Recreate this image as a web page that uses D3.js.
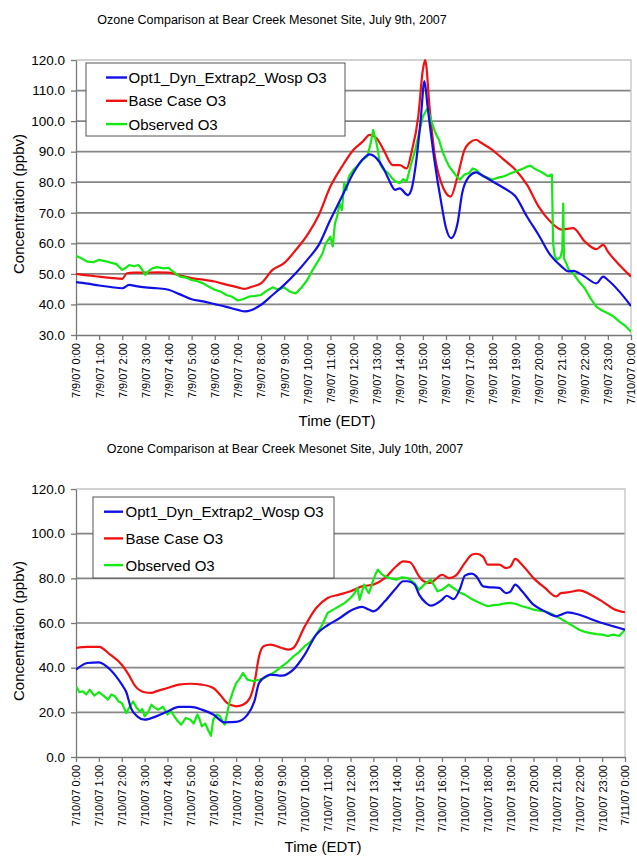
<!DOCTYPE html>
<html>
<head>
<meta charset="utf-8">
<script src="https://cdn.jsdelivr.net/npm/d3@7"></script>
<style>
  body { margin: 0; background: #fff; }
  text { font-family: Arial, "Liberation Sans", sans-serif; fill: #000; }
</style>
</head>
<body>
<script>
// Series names
var seriesNames = ["Opt1_Dyn_Extrap2_Wosp O3", "Base Case O3", "Observed O3"];
var seriesColors = ["#1010e6", "#f01212", "#12ea12"];

// July 9th - [hour, ppbv]
var day1Opt = [[0,47.3],[0.5,46.8],[1,46.2],[1.5,45.7],[2,45.3],[2.3,46.4],[2.6,46.0],[3,45.6],[3.5,45.3],[4,44.8],[4.5,43.3],[5,41.7],[5.5,41.0],[6,40.1],[6.5,39.2],[7,38.2],[7.3,37.7],[7.6,38.2],[8,39.9],[8.5,43.1],[9,46.4],[9.5,50.2],[10,54.6],[10.5,59.5],[11,67.7],[11.5,75.3],[12,83.1],[12.4,87.5],[12.7,89.1],[13,87.8],[13.3,84.5],[13.5,81.3],[13.8,77.5],[14,78],[14.35,75.8],[14.5,77.5],[14.7,86.2],[14.9,100],[15.07,113.1],[15.2,105],[15.5,87.2],[15.8,73],[16,65],[16.22,61.7],[16.5,66.6],[16.7,76.5],[17,81.9],[17.3,83.2],[17.5,82.5],[18,80.3],[18.5,78.1],[19,75.4],[19.5,68.8],[20,62.8],[20.5,56.3],[21,52.4],[21.3,50.8],[21.5,51],[22,49.1],[22.5,46.9],[22.8,49.1],[23,48],[23.5,44.2],[24,39.5]];
var day1Base = [[0,50],[0.5,49.5],[1,49.1],[1.5,48.7],[2,48.4],[2.2,50.2],[2.5,50.4],[3,50.4],[3.5,50.5],[4,50.4],[4.5,49.5],[5,48.6],[5.5,48.1],[6,47.5],[6.5,46.5],[7,45.6],[7.3,45.1],[7.6,45.8],[8,46.9],[8.5,51.3],[9,53.5],[9.5,57.8],[10,62.7],[10.5,69.3],[11,78.6],[11.5,85.1],[12,90.6],[12.4,93.3],[12.7,95.5],[13,94.4],[13.3,90.6],[13.7,85.6],[14,85.6],[14.3,84.5],[14.5,89.5],[14.8,101.5],[15,116.8],[15.1,120],[15.3,103.6],[15.5,89.5],[15.8,79.7],[16,76.4],[16.2,75.3],[16.5,81.9],[16.8,90.6],[17,92.8],[17.3,93.9],[17.5,93],[18,90.6],[18.5,87.4],[19,84.1],[19.5,79.2],[20,72.1],[20.5,67.2],[21,64.5],[21.5,65],[22,60.6],[22.5,58.1],[22.8,59.5],[23,57.3],[23.5,52.9],[24,49.1]];
var day1Obs = [[0,55.9],[0.25,55.0],[0.5,54.0],[0.75,53.8],[1,54.6],[1.25,54.2],[1.5,53.7],[1.75,53.2],[2,51.3],[2.15,52.0],[2.3,52.9],[2.5,52.5],[2.7,52.9],[2.85,51.5],[3,49.7],[3.15,51.0],[3.3,51.8],[3.5,52.2],[3.8,51.8],[4,52.0],[4.1,51.3],[4.3,50.2],[4.5,49.1],[4.75,48.8],[5,48.0],[5.25,47.6],[5.5,46.9],[5.75,45.8],[6,44.8],[6.25,44.2],[6.5,43.1],[6.75,42.5],[7,41.3],[7.25,41.8],[7.5,42.6],[7.75,42.8],[8,43.1],[8.25,44.5],[8.5,45.6],[8.75,44.8],[9,45.6],[9.25,44.2],[9.5,43.6],[9.75,45.5],[10,48],[10.25,51.5],[10.5,54.6],[10.65,56.5],[10.8,60],[11,62.2],[11.1,59],[11.2,66.6],[11.3,69],[11.4,73.1],[11.5,70.9],[11.6,79.7],[11.7,77.5],[11.8,81.9],[12,84.1],[12.2,85.5],[12.4,87.4],[12.6,88.5],[12.75,93],[12.85,97.1],[13,92.7],[13.15,86],[13.3,84.1],[13.5,83],[13.65,81.5],[13.8,80.3],[14,79.7],[14.15,81],[14.3,80.3],[14.5,86.2],[14.65,90],[14.8,95],[15,101.5],[15.2,104.2],[15.4,99.3],[15.55,96],[15.7,93.8],[15.85,90],[16,87.3],[16.15,85],[16.3,83.5],[16.45,82],[16.6,80.8],[16.8,82.5],[17,83],[17.15,84.5],[17.3,84.1],[17.45,83],[17.6,81.9],[17.8,81.5],[18,80.8],[18.25,81.5],[18.5,81.9],[18.75,82.8],[19,83.5],[19.25,84.2],[19.5,85.1],[19.65,85.4],[19.8,84.6],[20,83.8],[20.2,83.0],[20.4,82.0],[20.58,82.5],[20.63,60],[20.7,56],[20.8,54.6],[20.95,55.5],[21.03,58],[21.07,73],[21.1,55],[21.2,53.5],[21.3,51.5],[21.5,50.2],[21.75,47.5],[22,45.3],[22.25,42],[22.5,39.3],[22.75,38],[23,37.1],[23.25,36],[23.5,34.4],[23.75,33],[24,31.1]];

// July 10th - [hour, ppbv]
var day2Opt = [[0,39.1],[0.5,42.1],[1,42.4],[1.5,39.1],[2,32.5],[2.2,29],[2.4,22],[2.7,18],[3,16.7],[3.5,18.2],[4,20.4],[4.5,22.4],[5,22.4],[5.5,21.2],[6,19],[6.5,15.5],[7,15.7],[7.5,19],[7.8,25],[8,33.1],[8.3,36.1],[8.5,36.9],[9,36.4],[9.5,39.1],[10,45.8],[10.5,54.8],[11,59],[11.5,62],[12,65.5],[12.5,67.2],[12.8,66],[13,65.2],[13.5,69.7],[14,75.7],[14.3,78.7],[14.5,78.7],[14.8,77.2],[15,72.7],[15.3,69],[15.5,67.8],[16,70.4],[16.2,72.2],[16.5,70.7],[16.8,75.7],[17,81.2],[17.3,82.1],[17.5,80.9],[17.8,76.4],[18,76.1],[18.5,75.7],[18.8,73.4],[19,74.2],[19.2,77.2],[19.5,74.2],[20,68.2],[20.5,65.2],[21,63],[21.2,63.7],[21.5,64.8],[22,63.7],[22.5,61.8],[23,60],[23.5,58.5],[24,57]];
var day2Base = [[0,48.8],[0.5,49.3],[1,49.3],[1.5,45.8],[2,41.3],[2.3,36.9],[2.6,31.6],[3,29],[3.3,28.7],[3.5,29.4],[4,30.9],[4.5,32.4],[5,32.8],[5.5,32.4],[6,30.9],[6.3,27.9],[6.6,24.2],[7,22.7],[7.3,23.4],[7.6,26.4],[7.8,33.1],[8,45],[8.2,49.6],[8.5,50.3],[9,48.8],[9.3,48.1],[9.5,48.8],[10,58.5],[10.5,66.7],[11,71.2],[11.5,72.7],[12,74.2],[12.5,76.4],[13,77.2],[13.5,80.1],[14,85.4],[14.3,87.6],[14.6,87.2],[15,80.9],[15.2,78.7],[15.5,77.9],[15.7,79.4],[16,81.6],[16.3,80.1],[16.6,81.2],[17,86.9],[17.3,90.6],[17.5,91],[17.8,89.6],[18,86.1],[18.5,86.1],[18.8,84.6],[19,85.4],[19.2,88.7],[19.5,86.1],[20,80.1],[20.5,75.7],[21,71.9],[21.2,73.4],[21.5,73.7],[22,74.6],[22.5,72.7],[23,69.7],[23.5,66.3],[24,64.8]];
var day2Obs = [[0,31.6],[0.15,29],[0.3,29.4],[0.45,28],[0.6,30.1],[0.8,27.5],[1,29],[1.2,27.5],[1.4,25.7],[1.55,28],[1.7,27.2],[1.85,25],[2,24.2],[2.1,22],[2.2,19.7],[2.35,22.5],[2.5,24.9],[2.65,22],[2.8,20.4],[2.9,21.5],[3,18.2],[3.15,20],[3.3,23.4],[3.45,22],[3.6,21.2],[3.8,22.5],[4,19],[4.15,20.5],[4.3,18.2],[4.45,16],[4.6,14.5],[4.8,17.5],[5,16.7],[5.15,15],[5.3,19],[5.4,17],[5.5,13.7],[5.65,15],[5.8,11.5],[5.9,9.5],[6,16.7],[6.15,19],[6.3,18.2],[6.4,16],[6.5,14.5],[6.6,19],[6.7,24.2],[6.85,29],[7,33.1],[7.15,35],[7.3,37.6],[7.4,36],[7.5,34.6],[7.75,34],[8,34.6],[8.25,35.5],[8.5,36.9],[8.75,38.5],[9,40.6],[9.25,42.5],[9.5,45],[9.75,47],[10,49.6],[10.25,51.5],[10.5,54.8],[10.75,59],[11,64.5],[11.25,66],[11.5,67.5],[11.75,69],[12,71.2],[12.15,73],[12.3,75.7],[12.4,70.4],[12.5,74],[12.6,77.2],[12.7,75],[12.8,73.4],[12.9,76],[13,79.4],[13.1,82],[13.2,83.9],[13.35,82],[13.5,80.9],[13.75,80],[14,79.4],[14.25,80.5],[14.5,80.1],[14.65,79],[14.8,77.9],[15,74.9],[15.15,76.5],[15.3,77.9],[15.5,79.4],[15.65,77],[15.8,74.2],[16,74.9],[16.15,76],[16.3,77.2],[16.45,76],[16.6,74.9],[16.8,73.5],[17,72.7],[17.25,71],[17.5,69.7],[17.75,68.5],[18,67.5],[18.25,68],[18.5,68.2],[18.75,68.8],[19,69],[19.25,68.5],[19.5,67.5],[19.75,66.8],[20,66],[20.25,65.5],[20.5,65.2],[20.75,64.2],[21,63],[21.25,61.5],[21.5,60],[21.75,58.5],[22,57],[22.25,56],[22.5,55.5],[22.75,55],[23,54.8],[23.25,54.2],[23.5,54.8],[23.75,54.2],[24,57]];

// Tick labels
var day1Labels = ["7/9/07 0:00","7/9/07 1:00","7/9/07 2:00","7/9/07 3:00","7/9/07 4:00","7/9/07 5:00","7/9/07 6:00","7/9/07 7:00","7/9/07 8:00","7/9/07 9:00","7/9/07 10:00","7/9/07 11:00","7/9/07 12:00","7/9/07 13:00","7/9/07 14:00","7/9/07 15:00","7/9/07 16:00","7/9/07 17:00","7/9/07 18:00","7/9/07 19:00","7/9/07 20:00","7/9/07 21:00","7/9/07 22:00","7/9/07 23:00","7/10/07 0:00"];
var day2Labels = ["7/10/07 0:00","7/10/07 1:00","7/10/07 2:00","7/10/07 3:00","7/10/07 4:00","7/10/07 5:00","7/10/07 6:00","7/10/07 7:00","7/10/07 8:00","7/10/07 9:00","7/10/07 10:00","7/10/07 11:00","7/10/07 12:00","7/10/07 13:00","7/10/07 14:00","7/10/07 15:00","7/10/07 16:00","7/10/07 17:00","7/10/07 18:00","7/10/07 19:00","7/10/07 20:00","7/10/07 21:00","7/10/07 22:00","7/10/07 23:00","7/11/07 0:00"];
var day1YTicks = [30,40,50,60,70,80,90,100,110,120];
var day2YTicks = [0,20,40,60,80,100,120];

var w = 637;
var h = 858;

var svg = d3.select("body")
            .append("svg")
            .attr("width", w)
            .attr("height", h);

svg.append("rect").attr("width", w).attr("height", h).attr("fill", "#fff");

function drawChart(c) {
  var x = d3.scaleLinear().domain([0, 24]).range([c.left, c.right]);
  var y = d3.scaleLinear().domain([c.yTicks[0], c.yTicks[c.yTicks.length-1]]).range([c.bottom, c.top]);
  var g = svg.append("g");

  // title
  g.append("text")
   .attr("x", c.titleX).attr("y", c.titleY)
   .attr("text-anchor", "middle")
   .style("font-size", "12.5px")
   .text(c.title);

  // gridlines
  g.selectAll(".grid")
   .data(c.yTicks.slice(1, -1))
   .enter()
   .append("line")
   .attr("x1", c.left).attr("x2", c.right)
   .attr("y1", function(d){ return y(d); })
   .attr("y2", function(d){ return y(d); })
   .attr("stroke", "#858585")
   .attr("stroke-width", 1.7);

  // top and right border
  g.append("path")
   .attr("d", "M" + c.left + "," + c.top + "H" + c.right + "V" + c.bottom)
   .attr("fill", "none")
   .attr("stroke", "#c4c4c4")
   .attr("stroke-width", 1.3);

  // axes
  var yAxis = d3.axisLeft(y).tickValues(c.yTicks).tickFormat(d3.format(".1f")).tickSize(5).tickSizeOuter(0);
  var ya = g.append("g").attr("transform", "translate(" + c.left + ",0)").call(yAxis);
  ya.select(".domain").attr("stroke", "#777").attr("stroke-width", 1.3);
  ya.selectAll(".tick line").attr("stroke", "#777").attr("stroke-width", 1.3);
  ya.selectAll(".tick text").attr("x", -11).style("font-size", "13.5px").style("font-family", "Arial, 'Liberation Sans', sans-serif");

  var xAxis = d3.axisBottom(x).tickValues(d3.range(25)).tickFormat(function(d){ return c.labels[d]; }).tickSize(5).tickSizeOuter(0);
  var xa = g.append("g").attr("transform", "translate(0," + c.bottom + ")").call(xAxis);
  xa.select(".domain").attr("stroke", "#777").attr("stroke-width", 1.3);
  xa.selectAll(".tick line").attr("stroke", "#777").attr("stroke-width", 1.3);
  xa.selectAll(".tick text")
    .attr("transform", "rotate(-90)")
    .attr("x", -8).attr("y", 0).attr("dy", "0.36em")
    .attr("text-anchor", "end")
    .style("font-size", "11px")
    .style("font-family", "Arial, 'Liberation Sans', sans-serif");

  // axis titles
  g.append("text")
   .attr("x", c.xTitleX).attr("y", c.xTitleY)
   .attr("text-anchor", "middle")
   .style("font-size", "15px")
   .text("Time (EDT)");
  g.append("text")
   .attr("transform", "translate(" + c.yTitleX + "," + c.yTitleY + ") rotate(-90)")
   .attr("text-anchor", "middle")
   .style("font-size", "15px")
   .text("Concentration (ppbv)");

  // clip
  g.append("clipPath").attr("id", c.id)
   .append("rect").attr("x", c.left).attr("y", c.top - 1)
   .attr("width", c.right - c.left).attr("height", c.bottom - c.top + 1);

  var smooth = d3.line().x(function(d){ return x(d[0]); }).y(function(d){ return y(d[1]); }).curve(d3.curveMonotoneX);
  var rough = d3.line().x(function(d){ return x(d[0]); }).y(function(d){ return y(d[1]); });

  var lines = g.append("g").attr("clip-path", "url(#" + c.id + ")");
  lines.append("path").datum(c.base).attr("d", smooth)
       .attr("fill", "none").attr("stroke", seriesColors[1]).attr("stroke-width", 2.2);
  lines.append("path").datum(c.obs).attr("d", rough)
       .attr("fill", "none").attr("stroke", seriesColors[2]).attr("stroke-width", 2.2).attr("stroke-linejoin", "round");
  lines.append("path").datum(c.opt).attr("d", smooth)
       .attr("fill", "none").attr("stroke", seriesColors[0]).attr("stroke-width", 2.2);

  // legend
  var L = c.legend;
  var lg = g.append("g");
  lg.append("rect")
    .attr("x", L.x).attr("y", L.y).attr("width", L.w).attr("height", L.h)
    .attr("fill", "#fff").attr("stroke", "#555").attr("stroke-width", 1);
  var items = lg.selectAll(".item")
    .data(seriesNames)
    .enter()
    .append("g")
    .attr("transform", function(d, i){ return "translate(0," + (L.y + L.first + i * L.step) + ")"; });
  items.append("line")
    .attr("x1", L.x + L.lx1).attr("x2", L.x + L.lx2)
    .attr("stroke", function(d, i){ return seriesColors[i]; })
    .attr("stroke-width", 2.4);
  items.append("text")
    .attr("x", L.x + L.tx).attr("dy", "0.36em")
    .style("font-size", "15px")
    .text(function(d){ return d; });
}

drawChart({
  id: "clip1",
  left: 76, right: 631, top: 60, bottom: 335,
  yTicks: day1YTicks, labels: day1Labels,
  title: "Ozone Comparison at Bear Creek Mesonet Site, July 9th, 2007",
  titleX: 272, titleY: 23.5,
  xTitleX: 337, xTitleY: 426,
  yTitleX: 24, yTitleY: 204,
  opt: day1Opt, base: day1Base, obs: day1Obs,
  legend: {x: 86, y: 63, w: 259, h: 73, first: 14.5, step: 23.3, lx1: 20, lx2: 41, tx: 42.5}
});

drawChart({
  id: "clip2",
  left: 76, right: 625, top: 489, bottom: 757,
  yTicks: day2YTicks, labels: day2Labels,
  title: "Ozone Comparison at Bear Creek Mesonet Site, July 10th, 2007",
  titleX: 285, titleY: 453,
  xTitleX: 323, xTitleY: 852,
  yTitleX: 24, yTitleY: 631,
  opt: day2Opt, base: day2Base, obs: day2Obs,
  legend: {x: 93, y: 497, w: 241, h: 81, first: 14.7, step: 26.7, lx1: 11, lx2: 30, tx: 32.5}
});
</script>
</body>
</html>
